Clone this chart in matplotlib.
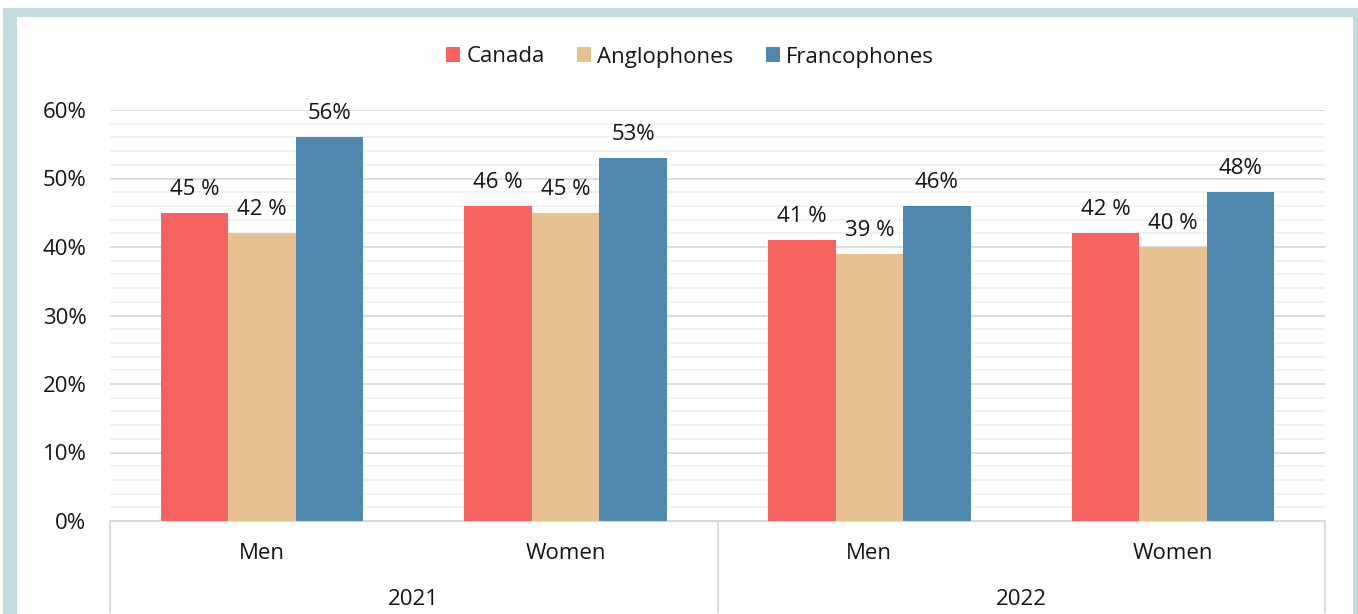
import matplotlib
matplotlib.use("Agg")
import matplotlib.pyplot as plt
from matplotlib.patches import Rectangle, Patch
from matplotlib.ticker import MultipleLocator, FuncFormatter
import matplotlib.transforms as mtransforms

plt.rcParams['font.family'] = ['Open Sans', 'DejaVu Sans']

# ---- data ----
categories = ["Men", "Women", "Men", "Women"]
years = ["2021", "2022"]
series_names = ["Canada", "Anglophones", "Francophones"]
canada = [45, 46, 41, 42]
anglophones = [42, 45, 39, 40]
francophones = [56, 53, 46, 48]
label_formats = ["{} %", "{} %", "{}%"]
colors = ["#F76361", "#E6C290", "#4E88AE"]
yticks = [0, 10, 20, 30, 40, 50, 60]

series = [canada, anglophones, francophones]

W, H = 1358, 614
fig = plt.figure(figsize=(W / 100, H / 100), dpi=100)
fig.patch.set_facecolor("white")

# light blue frame
frame_col = "#C1DBE0"
fig.patches.append(Rectangle((3 / W, 0), 14 / W, 1 - 8 / H, transform=fig.transFigure,
                             facecolor=frame_col, edgecolor="none", zorder=0))
fig.patches.append(Rectangle((3 / W, 1 - 17 / H), (1358 - 3) / W, 9 / H, transform=fig.transFigure,
                             facecolor=frame_col, edgecolor="none", zorder=0))
fig.patches.append(Rectangle((1353 / W, 0), 5 / W, 1 - 8 / H, transform=fig.transFigure,
                             facecolor=frame_col, edgecolor="none", zorder=0))

ax_l, ax_r = 110 / W, 1325 / W
ax_t, ax_b = 1 - 110 / H, 1 - 521 / H
ax = fig.add_axes([ax_l, ax_b, ax_r - ax_l, ax_t - ax_b])
ax.set_facecolor("white")

FS = 16
txt_col = "#141414"
bw = 0.222
x = list(range(len(categories)))
for i, (vals, col, fmt, name) in enumerate(zip(series, colors, label_formats, series_names)):
    xs = [xi + (i - 1) * bw for xi in x]
    ax.bar(xs, [v / 100 for v in vals], width=bw, color=col, zorder=3, label=name)
    for xx, v in zip(xs, vals):
        ax.annotate(fmt.format(v), (xx, v / 100), xytext=(0, 13), textcoords="offset points",
                    ha="center", va="baseline", fontsize=FS, color=txt_col, zorder=4)

ax.set_xlim(-0.5, len(categories) - 0.5)
ax.set_ylim(0, 0.6)
ax.yaxis.set_major_locator(MultipleLocator(0.1))
ax.yaxis.set_minor_locator(MultipleLocator(0.02))
ax.set_yticks([t / 100 for t in yticks])
ax.yaxis.set_major_formatter(FuncFormatter(lambda v, p: f"{round(v * 100)}%"))
ax.grid(axis="y", which="minor", color="#F0F0F0", linewidth=1.2, zorder=0)
ax.grid(axis="y", which="major", color="#D9D9D9", linewidth=1.3, zorder=1)
ax.tick_params(axis="y", which="both", length=0, pad=17, labelsize=FS, labelcolor=txt_col)
ax.tick_params(axis="x", which="both", length=0, labelbottom=False)
for s in ["top", "right", "left"]:
    ax.spines[s].set_visible(False)
ax.spines["bottom"].set_color("#D9D9D9")
ax.spines["bottom"].set_linewidth(1.3)
ax.spines["bottom"].set_zorder(2)

trans = mtransforms.blended_transform_factory(ax.transData, ax.transAxes)
for xi, c in zip(x, categories):
    ax.text(xi, -0.078, c, transform=trans, ha="center", va="center", fontsize=FS, color=txt_col)
for j, yr in enumerate(years):
    ax.text(2 * j + 0.5, -0.19, yr, transform=trans, ha="center", va="center", fontsize=FS, color=txt_col)
for xs in [-0.5, 1.5, 3.5]:
    ax.plot([xs, xs], [0, -0.222], transform=trans, color="#D9D9D9", linewidth=1.3, clip_on=False)

handles = [Patch(facecolor=c, edgecolor="none") for c in colors]
fig.legend(handles, series_names, loc="center", bbox_to_anchor=(0.508, 1 - 57 / H), ncol=3,
           frameon=False, fontsize=FS, handlelength=0.64, handleheight=0.64, handletextpad=0.27,
           columnspacing=1.45, labelcolor=txt_col)

fig.savefig("out.png", dpi=100, facecolor="white")
